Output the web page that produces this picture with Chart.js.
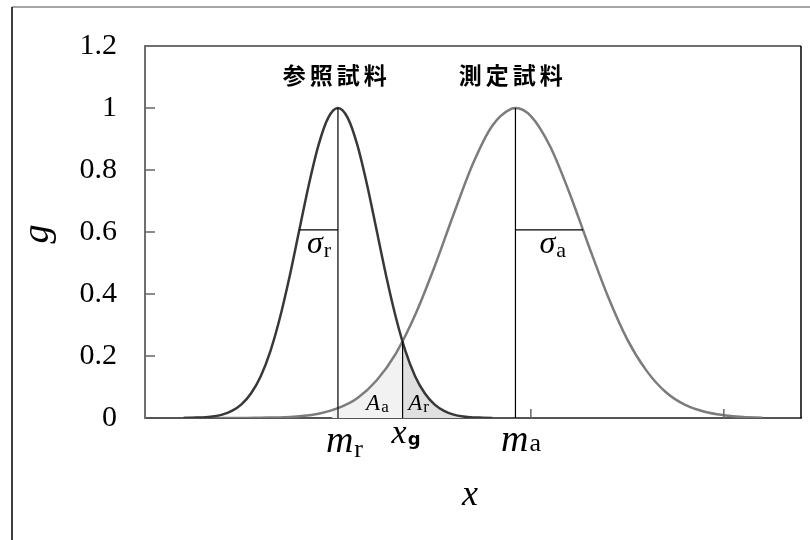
<!DOCTYPE html>
<html>
<head>
<meta charset="utf-8">
<script src="https://cdn.jsdelivr.net/npm/chart.js@4"></script>
<style>
  body { margin: 0; background: #fff; }
  #wrap { width: 810px; height: 540px; position: relative; }
</style>
</head>
<body>
<div id="wrap"><canvas id="gaussChart"></canvas></div>
<script>
// reference sample curve (dark)
const refX = [0.2, 0.25, 0.3, 0.35, 0.4, 0.45, 0.5, 0.55, 0.6, 0.65, 0.7, 0.75, 0.8, 0.85, 0.9, 0.95, 1.0,
    1.05, 1.1, 1.15, 1.2, 1.25, 1.3, 1.35, 1.4, 1.45, 1.5, 1.55, 1.6, 1.65, 1.7, 1.75, 1.8];
const refG = [0.000, 0.001, 0.002, 0.005, 0.011, 0.023, 0.044, 0.080, 0.135, 0.216, 0.325, 0.458, 0.607, 0.755, 0.882, 0.969, 1.000,
    0.969, 0.882, 0.755, 0.607, 0.458, 0.325, 0.216, 0.135, 0.080, 0.044, 0.023, 0.011, 0.005, 0.002, 0.001, 0.000];

// measured sample curve (gray)
const testX = [0.2, 0.3, 0.4, 0.5, 0.6, 0.7, 0.8, 0.9, 1.0, 1.1, 1.2, 1.3, 1.4, 1.5, 1.6, 1.7, 1.8, 1.9, 1.92,
    2.0, 2.1, 2.2, 2.3, 2.4, 2.5, 2.6, 2.7, 2.8, 2.9, 3.0, 3.1, 3.2];
const testG = [0.000, 0.000, 0.000, 0.000, 0.001, 0.002, 0.006, 0.014, 0.032, 0.064, 0.121, 0.208, 0.332, 0.487, 0.658, 0.821, 0.943, 0.998, 1.000,
    0.974, 0.876, 0.726, 0.555, 0.391, 0.253, 0.152, 0.083, 0.042, 0.020, 0.009, 0.003, 0.001];

// shaded areas A_a and A_r
const areaAX = [0.97, 1.0, 1.05, 1.1, 1.15, 1.2, 1.25, 1.3, 1.335];
const areaAG = [0.025, 0.032, 0.046, 0.064, 0.089, 0.121, 0.160, 0.208, 0.247];
const areaRX = [1.335, 1.35, 1.4, 1.45, 1.5, 1.55, 1.6, 1.65, 1.7, 1.75, 1.8];
const areaRG = [0.247, 0.216, 0.135, 0.080, 0.044, 0.023, 0.011, 0.005, 0.002, 0.001, 0.000];

// markers
const mR = 1.0, mA = 1.92, xG = 1.335, gAtXG = 0.247;
const sigmaR = 0.2, sigmaA = 0.35, sigmaLevel = 0.607;

const yTicks = [0, 0.2, 0.4, 0.6, 0.8, 1.0, 1.2];
const yTickLabels = ['0', '0.2', '0.4', '0.6', '0.8', '1', '1.2'];
const xTicks = [1, 2, 3];

const pts = (xs, ys) => xs.map((x, i) => ({ x: x, y: ys[i] }));

function guide(points) {
    return {
        data: points,
        borderColor: '#000',
        borderWidth: 1.2,
        pointRadius: 0,
        fill: false
    };
}

function subLabel(ctx, cx, baseY, main, sub, mainFont, subFont, drop) {
    ctx.font = mainFont;
    const w1 = ctx.measureText(main).width;
    ctx.font = subFont;
    const w2 = ctx.measureText(sub).width;
    const left = cx - (w1 + w2) / 2;
    ctx.textAlign = 'left';
    ctx.textBaseline = 'alphabetic';
    ctx.font = mainFont;
    ctx.fillText(main, left, baseY);
    ctx.font = subFont;
    ctx.fillText(sub, left + w1 + 1, baseY + drop);
}

const decorations = {
    id: 'decorations',
    afterDraw(chart) {
        const ctx = chart.ctx;
        const xs = chart.scales.x, ys = chart.scales.y;
        const area = chart.chartArea;
        ctx.save();

        // outer frame
        ctx.lineWidth = 1.5;
        ctx.strokeStyle = '#888';
        ctx.beginPath(); ctx.moveTo(12, 7); ctx.lineTo(chart.width, 7); ctx.stroke();
        ctx.strokeStyle = '#000';
        ctx.beginPath(); ctx.moveTo(12, 7); ctx.lineTo(12, chart.height); ctx.stroke();

        // plot top and right borders
        ctx.lineWidth = 2;
        ctx.strokeStyle = '#707070';
        ctx.beginPath(); ctx.moveTo(area.left, area.top); ctx.lineTo(area.right, area.top); ctx.stroke();
        ctx.lineWidth = 1.5;
        ctx.strokeStyle = '#000';
        ctx.beginPath(); ctx.moveTo(area.right, area.top); ctx.lineTo(area.right, area.bottom); ctx.stroke();

        // inward ticks
        ctx.lineWidth = 1.5;
        ctx.strokeStyle = '#666';
        yTicks.slice(1, -1).forEach(v => {
            const y = ys.getPixelForValue(v);
            ctx.beginPath(); ctx.moveTo(area.left, y); ctx.lineTo(area.left + 10, y); ctx.stroke();
        });
        xTicks.forEach(v => {
            const x = xs.getPixelForValue(v);
            ctx.beginPath(); ctx.moveTo(x, area.bottom); ctx.lineTo(x, area.bottom - 9); ctx.stroke();
        });

        ctx.fillStyle = '#000';

        // sample names
        ctx.font = 'bold 23px "Noto Sans CJK JP"';
        ctx.textAlign = 'center';
        ctx.textBaseline = 'middle';
        if ('letterSpacing' in ctx) ctx.letterSpacing = '4px';
        ctx.fillText('参照試料', xs.getPixelForValue(0.984) + 2, ys.getPixelForValue(1.106));
        ctx.fillText('測定試料', xs.getPixelForValue(1.896) + 2, ys.getPixelForValue(1.106));
        if ('letterSpacing' in ctx) ctx.letterSpacing = '0px';

        const it = (s) => 'italic ' + s + 'px "Liberation Serif"';
        const rm = (s) => s + 'px "Liberation Serif"';

        // sigma labels
        subLabel(ctx, xs.getPixelForValue(mR - sigmaR / 2), ys.getPixelForValue(sigmaLevel) + 23,
            'σ', 'r', it(32), rm(22), 4);
        subLabel(ctx, xs.getPixelForValue(mA + sigmaA / 2) + 3, ys.getPixelForValue(sigmaLevel) + 23,
            'σ', 'a', it(32), rm(22), 4);

        // area labels
        subLabel(ctx, xs.getPixelForValue(1.202), area.bottom - 8, 'A', 'a', it(23), rm(17), 2);
        subLabel(ctx, xs.getPixelForValue(1.415), area.bottom - 8, 'A', 'r', it(23), rm(17), 2);

        // x axis labels
        subLabel(ctx, xs.getPixelForValue(mR) + 6, area.bottom + 34, 'm', 'r', it(38), rm(26), 5);
        subLabel(ctx, xs.getPixelForValue(xG) + 3, area.bottom + 25, 'x', 'g', it(34), 'bold 18px "DejaVu Sans"', 2);
        subLabel(ctx, xs.getPixelForValue(mA) + 5, area.bottom + 33, 'm', 'a', it(38), rm(26), 0);

        ctx.font = it(36);
        ctx.textAlign = 'center';
        ctx.textBaseline = 'alphabetic';
        ctx.fillText('x', xs.getPixelForValue(1.684), area.bottom + 87);

        // y axis title
        ctx.translate(38, ys.getPixelForValue(0.6) + 2);
        ctx.rotate(-Math.PI / 2);
        ctx.font = it(38);
        ctx.textAlign = 'center';
        ctx.textBaseline = 'middle';
        ctx.fillText('g', 0, 0);

        ctx.restore();
    }
};

const ctx = document.getElementById('gaussChart').getContext('2d');
new Chart(ctx, {
    type: 'line',
    data: {
        datasets: [
            guide([{ x: mR, y: 0 }, { x: mR, y: 1 }]),
            guide([{ x: xG, y: 0 }, { x: xG, y: gAtXG }]),
            guide([{ x: mA, y: 0 }, { x: mA, y: 1 }]),
            guide([{ x: mR - sigmaR, y: sigmaLevel }, { x: mR, y: sigmaLevel }]),
            guide([{ x: mA, y: sigmaLevel }, { x: mA + sigmaA, y: sigmaLevel }]),
            {
                data: pts(refX, refG),
                borderColor: '#383838',
                borderWidth: 2.5,
                pointRadius: 0,
                cubicInterpolationMode: 'monotone',
                fill: false
            },
            {
                data: pts(testX, testG),
                borderColor: '#7c7c7c',
                borderWidth: 2.5,
                pointRadius: 0,
                cubicInterpolationMode: 'monotone',
                fill: false
            },
            {
                data: pts(areaAX, areaAG),
                borderWidth: 0,
                pointRadius: 0,
                cubicInterpolationMode: 'monotone',
                backgroundColor: '#f2f2f2',
                fill: 'origin'
            },
            {
                data: pts(areaRX, areaRG),
                borderWidth: 0,
                pointRadius: 0,
                cubicInterpolationMode: 'monotone',
                backgroundColor: '#e0e0e0',
                fill: 'origin'
            }
        ]
    },
    options: {
        responsive: true,
        maintainAspectRatio: false,
        animation: false,
        layout: { padding: { left: 0, top: 46, right: 9, bottom: 0 } },
        plugins: {
            legend: { display: false },
            tooltip: { enabled: false }
        },
        scales: {
            x: {
                type: 'linear',
                min: 0,
                max: 3.4,
                grid: { display: false, drawTicks: false },
                border: { display: true, color: '#555', width: 2 },
                ticks: { display: false },
                afterFit(scale) { scale.height = 122; }
            },
            y: {
                min: 0,
                max: 1.2,
                grid: { display: false, drawTicks: false },
                border: { display: true, color: '#707070', width: 2 },
                afterBuildTicks(scale) { scale.ticks = yTicks.map(v => ({ value: v })); },
                ticks: {
                    padding: 28,
                    color: '#000',
                    font: { family: 'Liberation Serif', size: 30 },
                    callback: (value) => yTickLabels[yTicks.indexOf(value)]
                },
                afterFit(scale) { scale.width = 145; }
            }
        }
    },
    plugins: [decorations]
});
</script>
</body>
</html>
